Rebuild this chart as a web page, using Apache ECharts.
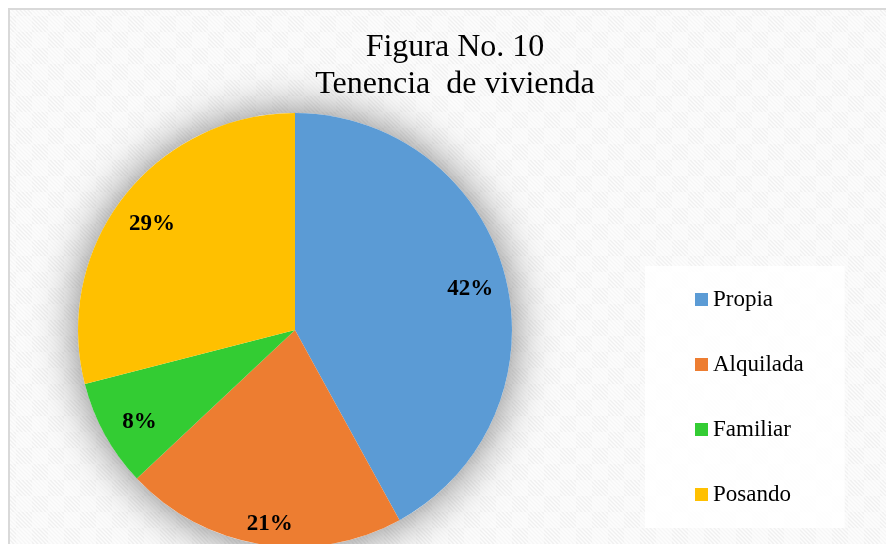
<!DOCTYPE html>
<html>
<head>
<meta charset="utf-8">
<script src="https://cdn.jsdelivr.net/npm/echarts@6/dist/echarts.min.js"></script>
<style>
  html, body { margin: 0; padding: 0; background: #fff; }
  #chart { width: 886px; height: 544px; }
</style>
</head>
<body>
<div id="chart"></div>
<script>
// datos de la figura
var categorias = ['Propia', 'Alquilada', 'Familiar', 'Posando'];
var porcentajes = [42, 21, 8, 29];
var titulo = ['Figura No. 10', 'Tenencia  de vivienda'];

var colores = ['#5B9BD5', '#ED7D31', '#33CC33', '#FFC000'];
var fuente = '"Liberation Serif", "Times New Roman", serif';

// fondo rayado, tipo textura de Excel
function crearTrama() {
    var c = document.createElement('canvas');
    c.width = 32; c.height = 32;
    var ctx = c.getContext('2d');
    ctx.fillStyle = '#f0f0f0';
    ctx.fillRect(0, 0, 32, 32);
    ctx.fillStyle = '#f6f6f6';
    ctx.fillRect(0, 0, 16, 16);
    ctx.fillRect(16, 16, 16, 16);
    ctx.strokeStyle = '#fdfdfd';
    ctx.lineWidth = 1.5;
    for (var i = -32; i < 64; i += 4) {
        ctx.beginPath();
        ctx.moveTo(i, 0);
        ctx.lineTo(i + 32, 32);
        ctx.stroke();
    }
    return c;
}

var myChart = echarts.init(document.getElementById('chart'));

var centro = [295, 330];
var radio = 217;

var datos = categorias.map(function (n, i) {
    return { name: n, value: porcentajes[i] };
});

// etiquetas: serie transparente para llevarlas hacia el borde
var ajustes = { Propia: [0, 4], Alquilada: [3, 15], Familiar: [3, 5], Posando: [0, 5] };
var datosEtiqueta = categorias.map(function (n, i) {
    return { name: n, value: porcentajes[i], label: { offset: ajustes[n] } };
});

var option = {
    backgroundColor: '#ffffff',
    color: colores,
    animation: false,
    graphic: [
        {
            type: 'rect',
            z: -10,
            silent: true,
            shape: { x: 9, y: 9, width: 900, height: 560 },
            style: {
                fill: { image: crearTrama(), repeat: 'repeat' },
                stroke: '#d9d9d9',
                lineWidth: 2
            }
        },
        {
            type: 'text', x: 455, y: 48, silent: true,
            style: { text: titulo[0], font: '32px ' + fuente, fill: '#000', align: 'center', verticalAlign: 'middle' }
        },
        {
            type: 'text', x: 455, y: 85, silent: true,
            style: { text: titulo[1], font: '32px ' + fuente, fill: '#000', align: 'center', verticalAlign: 'middle' }
        }
    ],
    legend: {
        orient: 'vertical',
        left: 645,
        top: 266,
        padding: [22, 41, 22, 50],
        backgroundColor: 'rgba(255,255,255,0.85)',
        data: categorias,
        icon: 'rect',
        itemWidth: 13,
        itemHeight: 13,
        itemGap: 42,
        selectedMode: false,
        textStyle: { fontFamily: fuente, fontSize: 23, lineHeight: 23, color: '#000' }
    },
    series: [
        {
            // disco de sombra
            type: 'pie',
            silent: true,
            center: centro,
            radius: radio,
            label: { show: false },
            labelLine: { show: false },
            itemStyle: { color: '#ffffff', shadowBlur: 45, shadowColor: 'rgba(0,0,0,0.5)' },
            data: [{ name: '_fondo', value: 1 }]
        },
        {
            type: 'pie',
            center: centro,
            radius: radio,
            startAngle: 90,
            clockwise: true,
            label: { show: false },
            labelLine: { show: false },
            emphasis: { disabled: true },
            data: datos
        },
        {
            type: 'pie',
            silent: true,
            center: centro,
            radius: [139, radio],
            startAngle: 90,
            clockwise: true,
            itemStyle: { color: 'rgba(0,0,0,0)' },
            emphasis: { disabled: true },
            labelLine: { show: false },
            label: {
                show: true,
                position: 'inside',
                formatter: '{c}%',
                fontFamily: fuente,
                fontWeight: 'bold',
                fontSize: 23,
                color: '#000'
            },
            data: datosEtiqueta
        }
    ]
};

myChart.setOption(option);
</script>
</body>
</html>
